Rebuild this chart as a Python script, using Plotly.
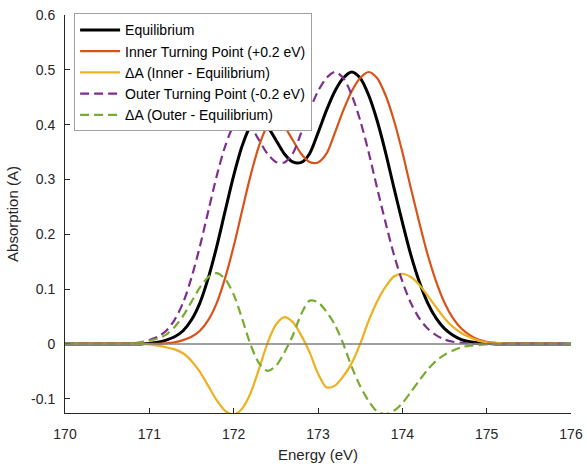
import plotly.graph_objects as go

energy = [round(170 + 0.1 * i, 1) for i in range(61)]

equilibrium = [0]*10 + [0.001, 0.003, 0.007, 0.013, 0.024, 0.044, 0.075, 0.121, 0.178, 0.243,
                        0.307, 0.361, 0.397, 0.407, 0.396, 0.372, 0.347, 0.332, 0.331, 0.347,
                        0.385, 0.426, 0.461, 0.485, 0.496, 0.485, 0.454, 0.408, 0.350, 0.285,
                        0.222, 0.163, 0.114, 0.075, 0.047, 0.028, 0.016, 0.008, 0.004, 0.002,
                        0.001] + [0]*10

inner = [0]*12 + [0.001, 0.003, 0.007, 0.013, 0.024, 0.044, 0.075, 0.121, 0.178, 0.243,
                  0.307, 0.361, 0.397, 0.407, 0.396, 0.372, 0.347, 0.332, 0.331, 0.347,
                  0.385, 0.426, 0.461, 0.485, 0.496, 0.485, 0.454, 0.408, 0.350, 0.285,
                  0.222, 0.163, 0.114, 0.075, 0.047, 0.028, 0.016, 0.008, 0.004, 0.002,
                  0.001] + [0]*8

delta_inner = [0]*10 + [-0.001, -0.003, -0.006, -0.010, -0.017, -0.031, -0.051, -0.077, -0.103, -0.122,
                        -0.129, -0.118, -0.090, -0.046, 0.001, 0.035, 0.049, 0.040, 0.016, -0.015,
                        -0.054, -0.079, -0.076, -0.059, -0.035, 0.000, 0.042, 0.077, 0.104, 0.123,
                        0.128, 0.122, 0.108, 0.088, 0.067, 0.047, 0.031, 0.020, 0.012, 0.006,
                        0.003, 0.002, 0.001] + [0]*8

outer = [0]*8 + [0.001, 0.003, 0.007, 0.013, 0.024, 0.044, 0.075, 0.121, 0.178, 0.243,
                 0.307, 0.361, 0.397, 0.407, 0.396, 0.372, 0.347, 0.332, 0.331, 0.347,
                 0.385, 0.426, 0.461, 0.485, 0.496, 0.485, 0.454, 0.408, 0.350, 0.285,
                 0.222, 0.163, 0.114, 0.075, 0.047, 0.028, 0.016, 0.008, 0.004, 0.002,
                 0.001] + [0]*12

delta_outer = [0]*8 + [0.001, 0.003, 0.006, 0.010, 0.017, 0.031, 0.051, 0.077, 0.103, 0.122,
                       0.129, 0.118, 0.090, 0.046, -0.001, -0.035, -0.049, -0.040, -0.016, 0.015,
                       0.054, 0.079, 0.076, 0.059, 0.035, 0.000, -0.042, -0.077, -0.104, -0.123,
                       -0.128, -0.122, -0.108, -0.088, -0.067, -0.047, -0.031, -0.020, -0.012, -0.006,
                       -0.003, -0.002, -0.001] + [0]*10

x_ticks = [170, 171, 172, 173, 174, 175, 176]
y_ticks = [-0.1, 0, 0.1, 0.2, 0.3, 0.4, 0.5, 0.6]
y_tick_labels = ["-0.1", "0", "0.1", "0.2", "0.3", "0.4", "0.5", "0.6"]

FONT = "Liberation Sans, Arial, sans-serif"
AX = "#262626"

fig = go.Figure()
series = [
    ("Equilibrium", equilibrium, "#000000", 3.0, "solid"),
    ("Inner Turning Point (+0.2 eV)", inner, "#D95319", 2.2, "solid"),
    ("ΔA (Inner - Equilibrium)", delta_inner, "#EDB120", 2.2, "solid"),
    ("Outer Turning Point (-0.2 eV)", outer, "#7E2F8E", 2.2, "9px,5px"),
    ("ΔA (Outer - Equilibrium)", delta_outer, "#77AC30", 2.2, "9px,5px"),
]
for name, vals, col, w, dash in series:
    fig.add_trace(go.Scatter(x=energy, y=vals, mode="lines", name=name,
                             line=dict(color=col, width=w, dash=dash, shape="spline", smoothing=0.8)))

fig.add_shape(type="line", xref="x", yref="y", x0=170, x1=176, y0=0, y1=0,
              line=dict(color="#808080", width=1.5), layer="above")

fig.update_layout(
    width=587, height=464,
    margin=dict(l=65, r=16, t=15, b=51, autoexpand=False),
    paper_bgcolor="white", plot_bgcolor="white",
    font=dict(family=FONT, size=14, color=AX),
    showlegend=True,
    legend=dict(x=0.018, y=1.004, xanchor="left", yanchor="top",
                bgcolor="white", bordercolor="#a0a0a0", borderwidth=1,
                font=dict(family=FONT, size=14, color="#000000"),
                tracegroupgap=0, itemwidth=40),
)
fig.update_xaxes(range=[170, 176], tickvals=x_ticks, ticks="inside", ticklen=5,
                 tickcolor=AX, showline=True, linecolor=AX, linewidth=1,
                 showgrid=False, zeroline=False, mirror=False, automargin=False,
                 ticklabeloverflow="allow",
                 title=dict(text="Energy (eV)", font=dict(size=15, color=AX), standoff=8),
                 tickfont=dict(size=14, color=AX), ticklabelstandoff=8)
fig.update_yaxes(range=[-0.126, 0.6], tickvals=y_ticks, ticktext=y_tick_labels,
                 ticks="inside", ticklen=5, tickcolor=AX, showline=True, linecolor=AX,
                 linewidth=1, showgrid=False, zeroline=False, mirror=False, automargin=False,
                 title=dict(text="Absorption (A)", font=dict(size=15, color=AX), standoff=8),
                 tickfont=dict(size=14, color=AX), ticklabelstandoff=6)

fig.write_html("out.html", config={"displayModeBar": False},
               post_script="document.body.style.margin='0';document.body.style.overflow='hidden';")
